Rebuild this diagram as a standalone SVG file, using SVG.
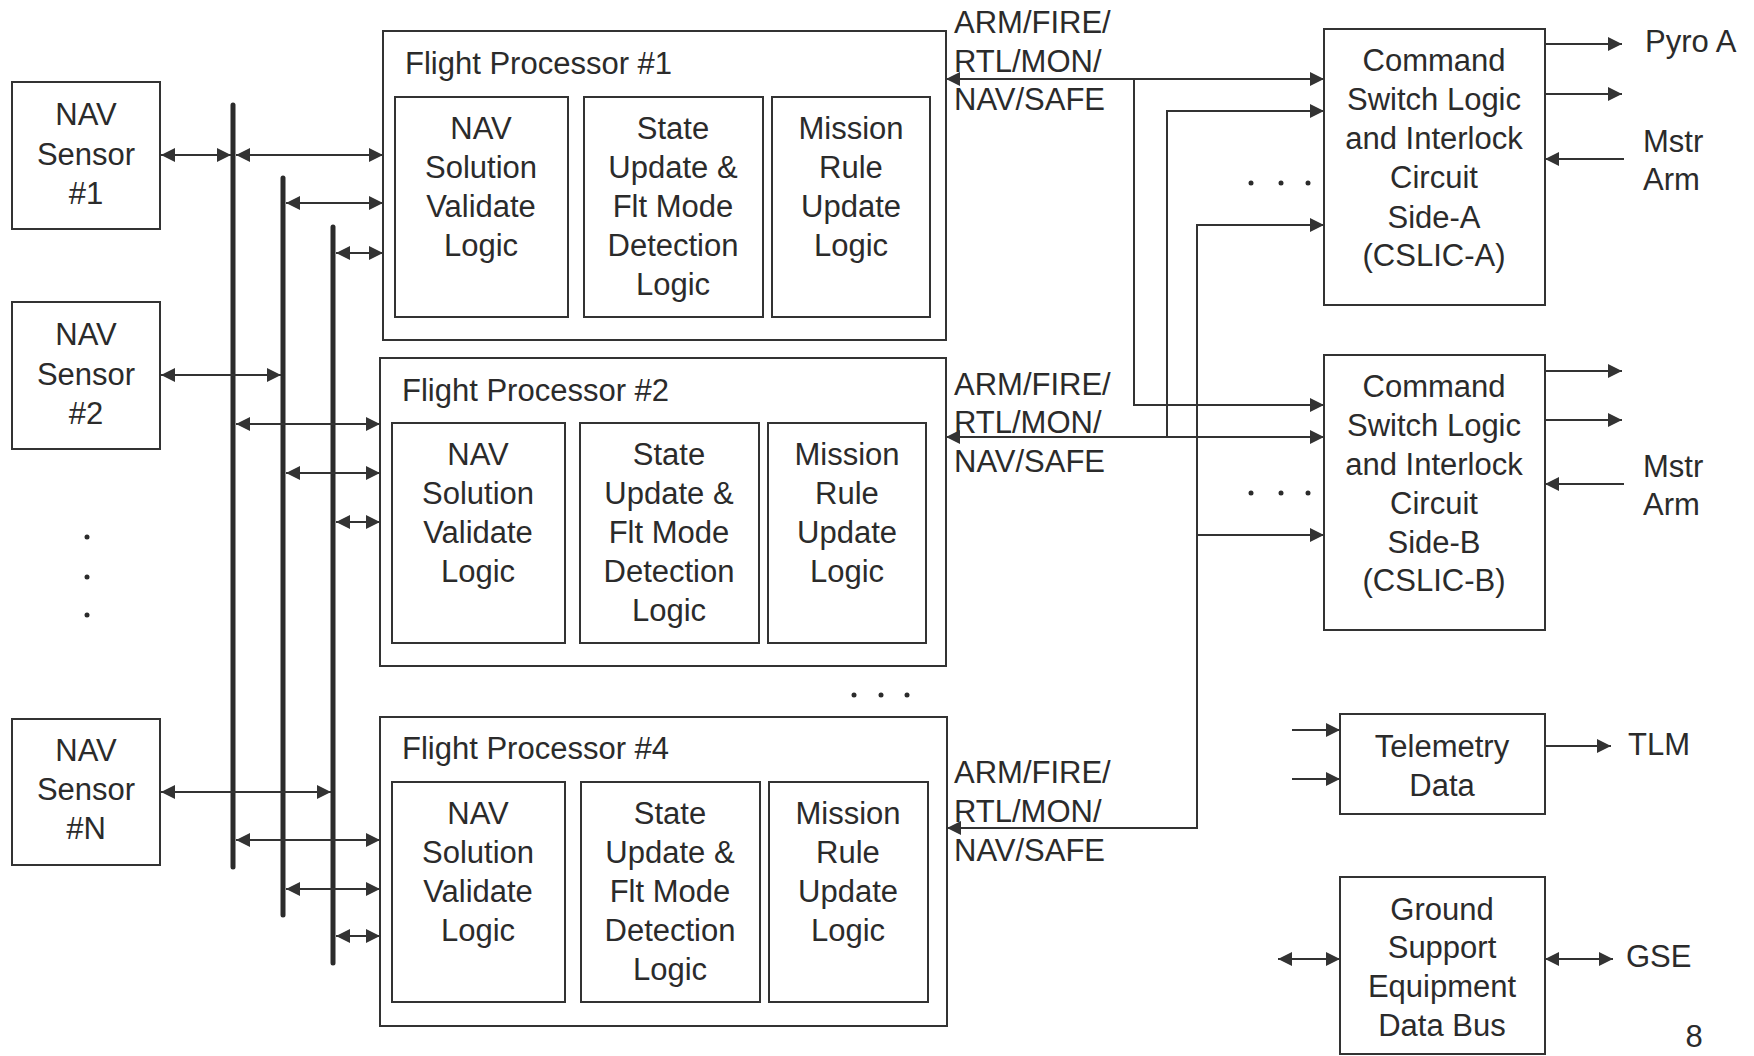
<svg xmlns="http://www.w3.org/2000/svg" width="1754" height="1056" viewBox="0 0 1754 1056">
<defs>
<style>
.box{fill:none;stroke:#333;stroke-width:2}
.t{font-family:"Liberation Sans",Arial,sans-serif;font-size:31px;fill:#2b2b2b}
.c{text-anchor:middle}
.ln{fill:none;stroke:#333;stroke-width:2}
.bus{stroke:#2b2b2b;stroke-width:5;stroke-linecap:round}
.both{marker-start:url(#ah);marker-end:url(#ah)}
.end{marker-end:url(#ah)}
.dot{fill:#2b2b2b}
</style>
<marker id="ah" viewBox="0 0 14 14" refX="14" refY="7" markerWidth="14" markerHeight="14" markerUnits="userSpaceOnUse" orient="auto-start-reverse">
<path d="M0,0 L14,7 L0,14 z" fill="#333"/>
</marker>
</defs>
<rect width="1754" height="1056" fill="#fff"/>

<g id="sensor1">
<rect class="box" x="12" y="82" width="148" height="147"/>
<text class="t c" x="86"><tspan x="86" y="125">NAV</tspan><tspan x="86" y="165">Sensor</tspan><tspan x="86" y="204">#1</tspan></text>
</g>
<g id="sensor2">
<rect class="box" x="12" y="302" width="148" height="147"/>
<text class="t c"><tspan x="86" y="345">NAV</tspan><tspan x="86" y="385">Sensor</tspan><tspan x="86" y="424">#2</tspan></text>
</g>
<g id="sensorN">
<rect class="box" x="12" y="719" width="148" height="146"/>
<text class="t c"><tspan x="86" y="761">NAV</tspan><tspan x="86" y="800">Sensor</tspan><tspan x="86" y="839">#N</tspan></text>
</g>
<g id="sensor-dots">
<circle class="dot" cx="87" cy="537" r="2.5"/><circle class="dot" cx="87" cy="577" r="2.5"/><circle class="dot" cx="87" cy="615" r="2.5"/>
</g>

<g id="fp1">
<rect class="box" x="383" y="31" width="563" height="309"/>
<text class="t" x="405" y="74">Flight Processor #1</text>
<rect class="box" x="395" y="97" width="173" height="220"/>
<rect class="box" x="584" y="97" width="179" height="220"/>
<rect class="box" x="772" y="97" width="158" height="220"/>
<text class="t c"><tspan x="481" y="139">NAV</tspan><tspan x="481" y="178">Solution</tspan><tspan x="481" y="217">Validate</tspan><tspan x="481" y="256">Logic</tspan></text>
<text class="t c"><tspan x="673" y="139">State</tspan><tspan x="673" y="178">Update &amp;</tspan><tspan x="673" y="217">Flt Mode</tspan><tspan x="673" y="256">Detection</tspan><tspan x="673" y="295">Logic</tspan></text>
<text class="t c"><tspan x="851" y="139">Mission</tspan><tspan x="851" y="178">Rule</tspan><tspan x="851" y="217">Update</tspan><tspan x="851" y="256">Logic</tspan></text>
</g>

<g id="fp2">
<rect class="box" x="380" y="358" width="566" height="308"/>
<text class="t" x="402" y="401">Flight Processor #2</text>
<rect class="box" x="392" y="423" width="173" height="220"/>
<rect class="box" x="580" y="423" width="179" height="220"/>
<rect class="box" x="768" y="423" width="158" height="220"/>
<text class="t c"><tspan x="478" y="465">NAV</tspan><tspan x="478" y="504">Solution</tspan><tspan x="478" y="543">Validate</tspan><tspan x="478" y="582">Logic</tspan></text>
<text class="t c"><tspan x="669" y="465">State</tspan><tspan x="669" y="504">Update &amp;</tspan><tspan x="669" y="543">Flt Mode</tspan><tspan x="669" y="582">Detection</tspan><tspan x="669" y="621">Logic</tspan></text>
<text class="t c"><tspan x="847" y="465">Mission</tspan><tspan x="847" y="504">Rule</tspan><tspan x="847" y="543">Update</tspan><tspan x="847" y="582">Logic</tspan></text>
</g>

<g id="fp-dots">
<circle class="dot" cx="854" cy="695" r="2.5"/><circle class="dot" cx="881" cy="695" r="2.5"/><circle class="dot" cx="907" cy="695" r="2.5"/>
</g>

<g id="fp4">
<rect class="box" x="380" y="717" width="567" height="309"/>
<text class="t" x="402" y="759">Flight Processor #4</text>
<rect class="box" x="392" y="782" width="173" height="220"/>
<rect class="box" x="581" y="782" width="179" height="220"/>
<rect class="box" x="769" y="782" width="159" height="220"/>
<text class="t c"><tspan x="478" y="824">NAV</tspan><tspan x="478" y="863">Solution</tspan><tspan x="478" y="902">Validate</tspan><tspan x="478" y="941">Logic</tspan></text>
<text class="t c"><tspan x="670" y="824">State</tspan><tspan x="670" y="863">Update &amp;</tspan><tspan x="670" y="902">Flt Mode</tspan><tspan x="670" y="941">Detection</tspan><tspan x="670" y="980">Logic</tspan></text>
<text class="t c"><tspan x="848" y="824">Mission</tspan><tspan x="848" y="863">Rule</tspan><tspan x="848" y="902">Update</tspan><tspan x="848" y="941">Logic</tspan></text>
</g>

<g id="cmd-labels">
<text class="t"><tspan x="954" y="33">ARM/FIRE/</tspan><tspan x="954" y="72">RTL/MON/</tspan><tspan x="954" y="110">NAV/SAFE</tspan></text>
<text class="t"><tspan x="954" y="395">ARM/FIRE/</tspan><tspan x="954" y="433">RTL/MON/</tspan><tspan x="954" y="472">NAV/SAFE</tspan></text>
<text class="t"><tspan x="954" y="783">ARM/FIRE/</tspan><tspan x="954" y="822">RTL/MON/</tspan><tspan x="954" y="861">NAV/SAFE</tspan></text>
</g>

<g id="cslicA">
<rect class="box" x="1324" y="29" width="221" height="276"/>
<text class="t c"><tspan x="1434" y="71">Command</tspan><tspan x="1434" y="110">Switch Logic</tspan><tspan x="1434" y="149">and Interlock</tspan><tspan x="1434" y="188">Circuit</tspan><tspan x="1434" y="228">Side-A</tspan><tspan x="1434" y="266">(CSLIC-A)</tspan></text>
<circle class="dot" cx="1251" cy="183" r="2.5"/><circle class="dot" cx="1281" cy="183" r="2.5"/><circle class="dot" cx="1308" cy="183" r="2.5"/>
<text class="t" x="1645" y="52">Pyro A</text>
<text class="t"><tspan x="1643" y="152">Mstr</tspan><tspan x="1643" y="190">Arm</tspan></text>
</g>

<g id="cslicB">
<rect class="box" x="1324" y="355" width="221" height="275"/>
<text class="t c"><tspan x="1434" y="397">Command</tspan><tspan x="1434" y="436">Switch Logic</tspan><tspan x="1434" y="475">and Interlock</tspan><tspan x="1434" y="514">Circuit</tspan><tspan x="1434" y="553">Side-B</tspan><tspan x="1434" y="591">(CSLIC-B)</tspan></text>
<circle class="dot" cx="1251" cy="493" r="2.5"/><circle class="dot" cx="1281" cy="493" r="2.5"/><circle class="dot" cx="1308" cy="493" r="2.5"/>
<text class="t"><tspan x="1643" y="477">Mstr</tspan><tspan x="1643" y="515">Arm</tspan></text>
</g>

<g id="telemetry">
<rect class="box" x="1340" y="714" width="205" height="100"/>
<text class="t c"><tspan x="1442" y="757">Telemetry</tspan><tspan x="1442" y="796">Data</tspan></text>
<text class="t" x="1628" y="755">TLM</text>
</g>

<g id="gse">
<rect class="box" x="1340" y="877" width="205" height="177"/>
<text class="t c"><tspan x="1442" y="920">Ground</tspan><tspan x="1442" y="958">Support</tspan><tspan x="1442" y="997">Equipment</tspan><tspan x="1442" y="1036">Data Bus</tspan></text>
<text class="t" x="1626" y="967">GSE</text>
</g>

<text id="page" class="t c" x="1694" y="1047">8</text>

<g id="connectors">
<line class="bus" x1="233" y1="105" x2="233" y2="867"/>
<line class="bus" x1="283" y1="178" x2="283" y2="915"/>
<line class="bus" x1="333" y1="227" x2="333" y2="963"/>

<line class="ln both" x1="161" y1="155" x2="231" y2="155"/>
<line class="ln both" x1="236" y1="155" x2="383" y2="155"/>
<line class="ln both" x1="286" y1="203" x2="383" y2="203"/>
<line class="ln both" x1="336" y1="253" x2="383" y2="253"/>

<line class="ln both" x1="161" y1="375" x2="281" y2="375"/>
<line class="ln both" x1="236" y1="424" x2="380" y2="424"/>
<line class="ln both" x1="286" y1="473" x2="380" y2="473"/>
<line class="ln both" x1="336" y1="522" x2="380" y2="522"/>

<line class="ln both" x1="161" y1="792" x2="331" y2="792"/>
<line class="ln both" x1="236" y1="840" x2="380" y2="840"/>
<line class="ln both" x1="286" y1="889" x2="380" y2="889"/>
<line class="ln both" x1="336" y1="936" x2="380" y2="936"/>

<line class="ln both" x1="946" y1="79" x2="1324" y2="79"/>
<path class="ln end" d="M1134,79 V405 H1324"/>
<line class="ln both" x1="946" y1="437" x2="1324" y2="437"/>
<path class="ln end" d="M1167,437 V111 H1324"/>
<path class="ln both" d="M1324,225 H1197 V828 H947"/>
<line class="ln end" x1="1197" y1="535" x2="1324" y2="535"/>

<line class="ln end" x1="1545" y1="44" x2="1622" y2="44"/>
<line class="ln end" x1="1545" y1="94" x2="1622" y2="94"/>
<line class="ln end" x1="1624" y1="159" x2="1545" y2="159"/>
<line class="ln end" x1="1545" y1="371" x2="1622" y2="371"/>
<line class="ln end" x1="1545" y1="420" x2="1622" y2="420"/>
<line class="ln end" x1="1624" y1="484" x2="1545" y2="484"/>

<line class="ln end" x1="1292" y1="730" x2="1340" y2="730"/>
<line class="ln end" x1="1292" y1="779" x2="1340" y2="779"/>
<line class="ln end" x1="1545" y1="746" x2="1611" y2="746"/>
<line class="ln both" x1="1278" y1="959" x2="1340" y2="959"/>
<line class="ln both" x1="1545" y1="959" x2="1613" y2="959"/>
</g>
</svg>
